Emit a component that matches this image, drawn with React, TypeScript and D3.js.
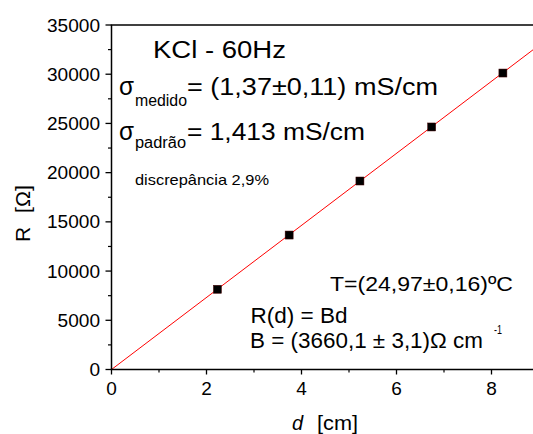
import React from "react";
import * as d3 from "d3";

const distances = [2.23, 3.74, 5.23, 6.74, 8.24];
const resistances = [8150, 13660, 19150, 24640, 30120];
const slopeB = 3660.1;
const yTicks = [0, 5000, 10000, 15000, 20000, 25000, 30000, 35000];
const xTicks = [0, 2, 4, 6, 8];

const W = 533;
const H = 434;
const FONT = "'Liberation Sans', Arial, sans-serif";

const x = d3.scaleLinear().domain([0, 9]).range([111.5, 539]);
const y = d3.scaleLinear().domain([0, 35000]).range([369.5, 25]);

const T = ({ x: px, y: py, size, len, children, anchor, italic }: any) => (
  <text
    x={px}
    y={py}
    fontSize={size}
    fontFamily={FONT}
    textLength={len}
    lengthAdjust={len ? "spacingAndGlyphs" : undefined}
    textAnchor={anchor}
    fontStyle={italic ? "italic" : undefined}
    fill="#000"
  >
    {children}
  </text>
);

export default function App() {
  const minorY = d3.range(0, 35001, 2500).filter((v) => v % 5000 !== 0);
  const minorX = d3.range(1, 9, 2);
  const line = d3
    .line<number>()
    .x((d) => x(d))
    .y((d) => y(slopeB * d));
  return (
    <svg width={W} height={H} style={{ position: "absolute", left: 0, top: 0, background: "#fff" }}>
      <defs>
        <clipPath id="plot">
          <rect x={x(0)} y={y(35000)} width={W - x(0)} height={y(0) - y(35000)} />
        </clipPath>
      </defs>
      <rect width={W} height={H} fill="#fff" />
      {/* fit line */}
      <path d={line([0, 9]) || ""} stroke="#ff0000" strokeWidth={1} fill="none" clipPath="url(#plot)" />
      {/* points */}
      {distances.map((d, i) => (
        <rect
          key={i}
          x={x(d) - 4}
          y={y(resistances[i]) - 4}
          width={8}
          height={8}
          fill="#000"
          stroke="#400"
          strokeWidth={0.5}
        />
      ))}
      {/* axes */}
      <line x1={x(0)} x2={x(0)} y1={y(35000)} y2={y(0)} stroke="#000" strokeWidth={1.5} />
      <line x1={x(0) - 0.75} x2={W} y1={y(0)} y2={y(0)} stroke="#000" strokeWidth={1.5} />
      <line x1={x(0) - 0.75} x2={W} y1={y(35000)} y2={y(35000)} stroke="#000" strokeWidth={1.5} />
      {yTicks.map((v) => (
        <g key={v}>
          <line x1={x(0) - 6} x2={x(0)} y1={y(v)} y2={y(v)} stroke="#000" strokeWidth={1.3} />
          <T x={100} y={y(v) + 6.5} size={18} anchor="end" len={String(v).length * 10.6}>
            {v}
          </T>
        </g>
      ))}
      {minorY.map((v) => (
        <line key={v} x1={x(0) - 3.5} x2={x(0)} y1={y(v)} y2={y(v)} stroke="#000" strokeWidth={1.2} />
      ))}
      {xTicks.map((v) => (
        <g key={v}>
          <line x1={x(v)} x2={x(v)} y1={y(0)} y2={y(0) + 5} stroke="#000" strokeWidth={1.3} />
          <T x={x(v)} y={395} size={19} anchor="middle">
            {v}
          </T>
        </g>
      ))}
      {minorX.map((v) => (
        <line key={v} x1={x(v)} x2={x(v)} y1={y(0)} y2={y(0) + 3} stroke="#000" strokeWidth={1.2} />
      ))}
      {/* axis titles */}
      <g transform="translate(30,242) rotate(-90)">
        <T x={0} y={0} size={21}>R</T>
      </g>
      <g transform="translate(30,213) rotate(-90)">
        <T x={0} y={0} size={21} len={28}>[Ω]</T>
      </g>
      <T x={292} y={430} size={20} italic>d</T>
      <T x={317} y={430} size={20} len={41}>[cm]</T>
      {/* annotations */}
      <T x={153} y={58} size={23} len={133}>KCl - 60Hz</T>
      <T x={119} y={95} size={25} len={15}>σ</T>
      <T x={135} y={106} size={16} len={52}>medido</T>
      <T x={187} y={95} size={23.5} len={251}>= (1,37±0,11) mS/cm</T>
      <T x={119} y={140} size={25} len={15}>σ</T>
      <T x={135} y={148} size={16} len={51}>padrão</T>
      <T x={187} y={140} size={23.5} len={178}>= 1,413 mS/cm</T>
      <T x={135} y={185} size={15} len={134}>discrepância 2,9%</T>
      <T x={330} y={291} size={21} len={183}>T=(24,97±0,16)ºC</T>
      <T x={250.5} y={323} size={22} len={97}>R(d) = Bd</T>
      <T x={250} y={348} size={22} len={233}>B = (3660,1 ± 3,1)Ω cm</T>
      <T x={494} y={334} size={13} len={8}>-1</T>
    </svg>
  );
}
